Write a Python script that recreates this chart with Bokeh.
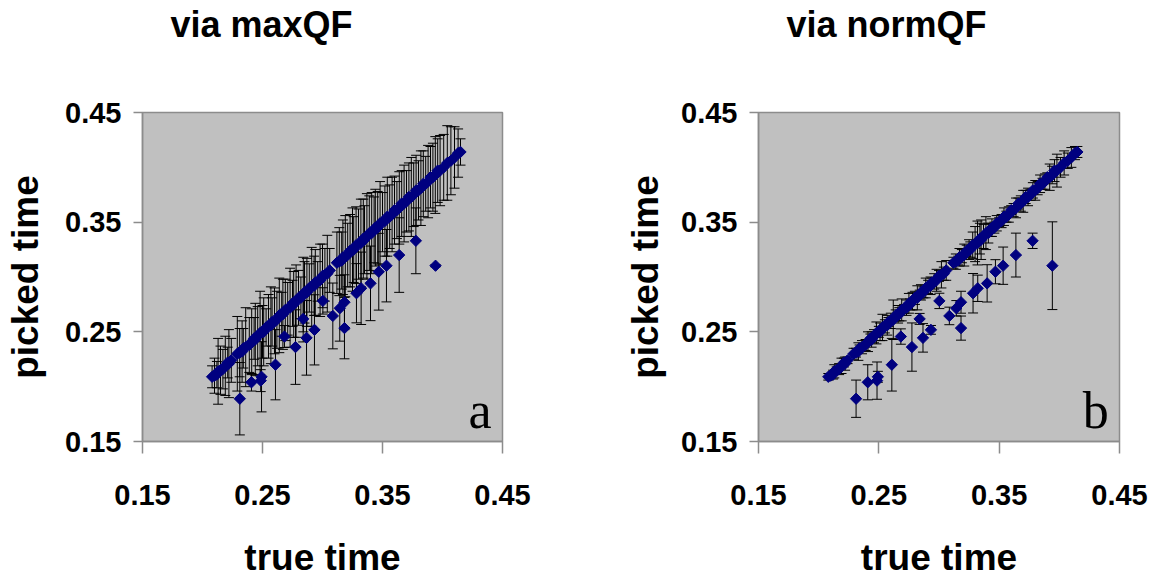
from bokeh.plotting import figure
from bokeh.layouts import row
from bokeh.models import ColumnDataSource, FixedTicker, Range1d, Label, Title
from bokeh.embed import file_html
from bokeh.resources import INLINE

# ---------------- data ----------------
ticks = [0.15, 0.25, 0.35, 0.45]
titles = ["via maxQF", "via normQF"]
panel_letters = ["a", "b"]
x_label = "true time"
y_label = "picked time"

# points on the diagonal (true time, picked time)
diag_true = [
    0.208, 0.210, 0.212, 0.213, 0.215, 0.217, 0.219, 0.221, 0.222, 0.224,
    0.229, 0.231, 0.233, 0.234, 0.236, 0.239, 0.241, 0.243, 0.244, 0.246,
    0.248, 0.250, 0.251, 0.253, 0.255, 0.257, 0.258, 0.260, 0.262, 0.264,
    0.266, 0.267, 0.269, 0.271, 0.273, 0.275, 0.276, 0.278, 0.280, 0.282,
    0.284, 0.285, 0.287, 0.289, 0.291, 0.293, 0.294, 0.296, 0.298, 0.300,
    0.302, 0.304, 0.306, 0.312, 0.314, 0.316, 0.317, 0.319, 0.321, 0.323,
    0.325, 0.326, 0.328, 0.330, 0.332, 0.334, 0.335, 0.337, 0.339, 0.341,
    0.343, 0.344, 0.346, 0.348, 0.350, 0.352, 0.354, 0.356, 0.358, 0.360,
    0.362, 0.364, 0.366, 0.368, 0.370, 0.372, 0.374, 0.376, 0.378, 0.380,
    0.382, 0.384, 0.386, 0.388, 0.390, 0.392, 0.394, 0.396, 0.398, 0.401,
    0.404, 0.407, 0.410, 0.413, 0.415,
]
diag_picked = [
    0.209, 0.210, 0.211, 0.214, 0.215, 0.216, 0.219, 0.222, 0.221, 0.224,
    0.230, 0.231, 0.232, 0.235, 0.236, 0.238, 0.241, 0.244, 0.243, 0.246,
    0.249, 0.250, 0.250, 0.254, 0.255, 0.256, 0.259, 0.260, 0.261, 0.265,
    0.266, 0.266, 0.270, 0.271, 0.272, 0.276, 0.275, 0.278, 0.281, 0.281,
    0.284, 0.286, 0.286, 0.290, 0.291, 0.292, 0.295, 0.296, 0.297, 0.301,
    0.302, 0.303, 0.306, 0.313, 0.314, 0.315, 0.318, 0.319, 0.320, 0.324,
    0.325, 0.325, 0.329, 0.330, 0.331, 0.335, 0.334, 0.337, 0.340, 0.340,
    0.343, 0.345, 0.345, 0.349, 0.350, 0.351, 0.355, 0.355, 0.357, 0.361,
    0.361, 0.363, 0.367, 0.367, 0.369, 0.373, 0.373, 0.375, 0.379, 0.379,
    0.381, 0.385, 0.385, 0.387, 0.391, 0.391, 0.393, 0.397, 0.397, 0.400,
    0.404, 0.406, 0.409, 0.413, 0.414,
]
diag_err_max = [
    0.010, 0.016, 0.012, 0.030, 0.022, 0.018, 0.027, 0.014, 0.031, 0.020,
    0.034, 0.022, 0.028, 0.018, 0.036, 0.025, 0.030, 0.019, 0.033, 0.027,
    0.038, 0.024, 0.031, 0.017, 0.029, 0.035, 0.022, 0.030, 0.026, 0.034,
    0.020, 0.032, 0.028, 0.024, 0.036, 0.021, 0.030, 0.033, 0.025, 0.019,
    0.034, 0.028, 0.031, 0.022, 0.036, 0.027, 0.030, 0.018, 0.033, 0.029,
    0.024, 0.035, 0.020, 0.028, 0.031, 0.026, 0.034, 0.037, 0.029, 0.033,
    0.038, 0.030, 0.035, 0.032, 0.040, 0.036, 0.031, 0.039, 0.034, 0.037,
    0.030, 0.035, 0.033, 0.038, 0.027, 0.032, 0.036, 0.029, 0.034, 0.031,
    0.026, 0.033, 0.030, 0.035, 0.028, 0.031, 0.036, 0.029, 0.032, 0.027,
    0.034, 0.030, 0.025, 0.033, 0.028, 0.031, 0.035, 0.029, 0.032, 0.030,
    0.034, 0.031, 0.028, 0.022, 0.012,
]
diag_err_norm = [
    0.003, 0.002, 0.004, 0.006, 0.003, 0.005, 0.007, 0.004, 0.006, 0.003,
    0.005, 0.004, 0.008, 0.003, 0.006, 0.005, 0.009, 0.004, 0.007, 0.006,
    0.010, 0.005, 0.008, 0.012, 0.006, 0.009, 0.004, 0.007, 0.018, 0.005,
    0.008, 0.006, 0.010, 0.004, 0.007, 0.009, 0.005, 0.008, 0.006, 0.011,
    0.004, 0.007, 0.005, 0.009, 0.006, 0.008, 0.004, 0.007, 0.010, 0.005,
    0.012, 0.006, 0.009, 0.005, 0.007, 0.004, 0.008, 0.006, 0.010, 0.005,
    0.009, 0.007, 0.012, 0.016, 0.020, 0.014, 0.018, 0.011, 0.015, 0.009,
    0.006, 0.008, 0.005, 0.007, 0.004, 0.006, 0.008, 0.005, 0.007, 0.004,
    0.006, 0.009, 0.005, 0.007, 0.010, 0.006, 0.008, 0.005, 0.007, 0.009,
    0.006, 0.008, 0.005, 0.007, 0.004, 0.012, 0.008, 0.010, 0.015, 0.009,
    0.011, 0.007, 0.009, 0.006, 0.005,
]

# points picked too early (below the diagonal)
out_true = [0.2311, 0.2408, 0.2485, 0.2492, 0.2608, 0.2683, 0.2775, 0.2839,
            0.2867, 0.2933, 0.3003, 0.3086, 0.3144, 0.3183, 0.3183, 0.3283,
            0.3322, 0.3400, 0.3469, 0.3533, 0.3639, 0.3778, 0.3942]
out_picked = [0.1890, 0.2040, 0.2055, 0.2090, 0.2200, 0.2457, 0.2361, 0.2618,
              0.2445, 0.2518, 0.2782, 0.2645, 0.2715, 0.2770, 0.2534, 0.2852,
              0.2897, 0.2942, 0.3048, 0.3103, 0.3200, 0.3330, 0.3103]
out_err_max = [0.033, 0.008, 0.010, 0.032, 0.032, 0.010, 0.034, 0.021,
               0.034, 0.032, 0.012, 0.030, 0.030, 0.025, 0.028, 0.027,
               0.033, 0.034, 0.035, 0.033, 0.034, 0.030, 0.001]
out_err_norm = [0.017, 0.016, 0.017, 0.005, 0.024, 0.007, 0.022, 0.005,
                0.013, 0.004, 0.007, 0.008, 0.007, 0.010, 0.011, 0.018,
                0.012, 0.017, 0.011, 0.017, 0.020, 0.007, 0.040]

MARKER = "#000080"
BG = "#C0C0C0"
EDGE = "#8C8C8C"
FONT = "Liberation Sans"
H = 580
TOP = 112


def make_panel(title, letter, err_diag, err_out, width, b_left, b_right,
               t_off, ylab_standoff):
    xs = diag_true + out_true
    ys = diag_picked + out_picked
    es = err_diag + err_out
    src = ColumnDataSource(dict(
        x=xs, y=ys,
        lo=[y - e for y, e in zip(ys, es)],
        hi=[y + e for y, e in zip(ys, es)],
    ))
    p = figure(width=width, height=H,
               x_range=Range1d(0.15, 0.45), y_range=Range1d(0.15, 0.45),
               output_backend="svg", toolbar_location=None,
               min_border_left=b_left, min_border_right=b_right,
               min_border_top=TOP, min_border_bottom=H - TOP - 330)
    p.background_fill_color = BG
    p.border_fill_color = "white"
    p.outline_line_color = EDGE
    p.outline_line_width = 1.5
    p.grid.visible = False
    p.title.text = ""

    # spacer between frame and the title, then the title itself
    p.add_layout(Title(text=" ", text_font_size="2px", standoff=60), "above")
    p.add_layout(Title(text=title, text_font=FONT, text_font_style="bold",
                       text_font_size="36px", text_color="black",
                       align="left", offset=t_off, vertical_align="top",
                       standoff=4), "above")

    for ax in (p.xaxis[0], p.yaxis[0]):
        ax.ticker = FixedTicker(ticks=ticks)
        ax.minor_tick_line_color = None
        ax.major_tick_in = 0
        ax.axis_line_color = EDGE
        ax.axis_line_width = 1.5
        ax.major_tick_line_color = EDGE
        ax.major_tick_line_width = 1.5
        ax.major_label_text_font = FONT
        ax.major_label_text_font_style = "bold"
        ax.major_label_text_font_size = "29px"
        ax.major_label_text_color = "black"
        ax.axis_label_text_font = FONT
        ax.axis_label_text_font_style = "bold"
        ax.axis_label_text_font_size = "37px"
        ax.axis_label_text_color = "black"
    p.xaxis.axis_label = x_label
    p.yaxis.axis_label = y_label
    p.xaxis.major_tick_out = 12
    p.xaxis.major_label_standoff = 31
    p.xaxis.axis_label_standoff = 29
    p.yaxis.major_tick_out = 9
    p.yaxis.major_label_standoff = 12
    p.yaxis.axis_label_standoff = ylab_standoff

    # error bars
    p.segment(x0="x", y0="lo", x1="x", y1="hi", source=src,
              line_color="black", line_width=1)
    p.scatter(x="x", y="lo", source=src, marker="dash", size=10,
              line_color="black", line_width=1)
    p.scatter(x="x", y="hi", source=src, marker="dash", size=10,
              line_color="black", line_width=1)
    # markers
    p.scatter(x="x", y="y", source=src, marker="square", angle=0.785398,
              size=8, fill_color=MARKER, line_color=MARKER)

    # panel letter
    p.add_layout(Label(x=0.441, y=0.178, text=letter,
                       text_font="Liberation Serif",
                       text_font_size="52px", text_align="right",
                       text_baseline="alphabetic", text_color="black"))
    return p


p1 = make_panel(titles[0], panel_letters[0], diag_err_max, out_err_max,
                562, 142, 60, 28, 16)
p2 = make_panel(titles[1], panel_letters[1], diag_err_norm, out_err_norm,
                593, 196, 36, 28, 12)

layout = row(p1, p2)
open("out.html", "w").write(file_html(layout, INLINE))
